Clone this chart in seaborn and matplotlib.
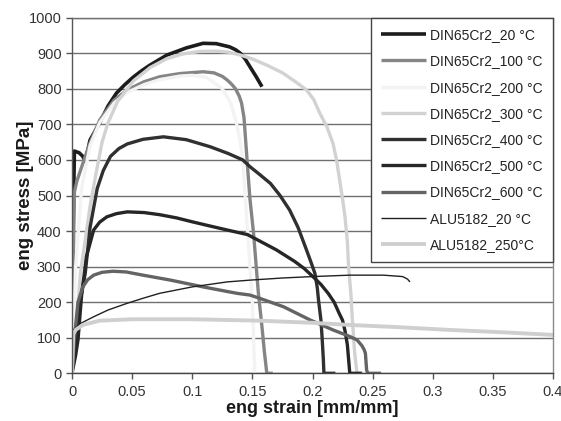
import matplotlib
matplotlib.use("Agg")
import matplotlib.pyplot as plt
import pandas as pd
import seaborn as sns

# --- engineering stress-strain data (strain in mm/mm, stress in MPa) ---
din20_strain = [0, 0.001, 0.002, 0.006, 0.009, 0.011, 0.015, 0.023, 0.030, 0.037, 0.044, 0.051,
                0.058, 0.065, 0.079, 0.095, 0.109, 0.120, 0.131, 0.136, 0.140, 0.144, 0.148,
                0.153, 0.158]
din20_stress = [0, 420, 625, 620, 610, 595, 656, 704, 752, 788, 812, 833,
                851, 867, 895, 915, 928, 927, 918, 910, 900, 884, 862,
                835, 806]

din100_strain = [0, 0.001, 0.002, 0.004, 0.010, 0.015, 0.023, 0.035, 0.046, 0.060, 0.073,
                 0.090, 0.109, 0.118, 0.125, 0.129, 0.133, 0.136, 0.139, 0.141, 0.143,
                 0.144, 0.146, 0.148, 0.151, 0.155, 0.158, 0.160, 0.162, 0.167]
din100_stress = [0, 300, 510, 540, 600, 648, 712, 768, 797, 820, 834,
                 843, 848, 845, 835, 825, 812, 800, 780, 760, 720,
                 674, 580, 490, 393, 225, 130, 60, 0, 0]

din200_strain = [0, 0.003, 0.008, 0.015, 0.023, 0.035, 0.046, 0.060, 0.073, 0.090, 0.100,
                 0.112, 0.125, 0.132, 0.137, 0.140, 0.142, 0.144, 0.146, 0.148, 0.150,
                 0.151, 0.152]
din200_stress = [0, 300, 520, 640, 705, 760, 790, 812, 826, 836, 838,
                 832, 800, 760, 700, 650, 600, 500, 400, 300, 200,
                 100, 0]

din300_strain = [0, 0.004, 0.007, 0.011, 0.015, 0.020, 0.025, 0.030, 0.038, 0.051, 0.065,
                 0.079, 0.092, 0.106, 0.120, 0.130, 0.140, 0.150, 0.163, 0.175, 0.185,
                 0.195, 0.201, 0.206, 0.212, 0.217, 0.220, 0.223, 0.225, 0.227, 0.229,
                 0.230, 0.232, 0.233, 0.235, 0.237, 0.242]
din300_stress = [0, 150, 281, 375, 469, 562, 650, 705, 765, 822, 860,
                 885, 898, 905, 906, 903, 895, 884, 865, 845, 822,
                 797, 770, 732, 693, 647, 600, 534, 490, 441, 370,
                 300, 220, 159, 60, 0, 0]

din400_strain = [0, 0.003, 0.006, 0.011, 0.015, 0.021, 0.026, 0.032, 0.039, 0.046, 0.059,
                 0.076, 0.095, 0.115, 0.130, 0.142, 0.148, 0.155, 0.165, 0.173, 0.181,
                 0.188, 0.195, 0.199, 0.202, 0.204, 0.205, 0.207, 0.208, 0.209, 0.2095,
                 0.219]
din400_stress = [0, 90, 187, 281, 410, 520, 570, 610, 632, 645, 658,
                 665, 657, 637, 618, 600, 581, 562, 534, 500, 459,
                 410, 347, 310, 281, 240, 206, 150, 100, 40, 0,
                 0]

din500_strain = [0, 0.003, 0.005, 0.008, 0.012, 0.018, 0.023, 0.029, 0.037, 0.046, 0.060,
                 0.073, 0.087, 0.100, 0.115, 0.129, 0.146, 0.160, 0.170, 0.185, 0.193,
                 0.200, 0.207, 0.213, 0.218, 0.222, 0.225, 0.227, 0.229, 0.230, 0.231,
                 0.241]
din500_stress = [0, 50, 94, 220, 328, 403, 425, 440, 449, 454, 452,
                 446, 437, 426, 414, 403, 390, 365, 347, 315, 295,
                 273, 250, 225, 200, 170, 149, 120, 80, 40, 0,
                 0]

din600_strain = [0, 0.002, 0.005, 0.009, 0.013, 0.018, 0.025, 0.034, 0.045, 0.059, 0.082,
                 0.109, 0.137, 0.148, 0.156, 0.176, 0.198, 0.217, 0.230, 0.237, 0.241,
                 0.243, 0.244, 0.245, 0.246, 0.257]
din600_stress = [0, 100, 200, 243, 263, 276, 284, 287, 285, 276, 262,
                 243, 225, 220, 211, 187, 150, 122, 105, 94, 78,
                 66, 56, 9, 0, 0]

alu20_strain = [0, 0.001, 0.007, 0.018, 0.030, 0.046, 0.060, 0.073, 0.100, 0.129, 0.148,
                0.175, 0.200, 0.231, 0.259, 0.275, 0.279, 0.281]
alu20_stress = [0, 122, 140, 159, 178, 197, 212, 225, 243, 257, 262,
                268, 272, 276, 276, 272, 265, 257]

alu250_strain = [0, 0.001, 0.003, 0.009, 0.023, 0.050, 0.073, 0.100, 0.156, 0.200, 0.231,
                 0.270, 0.314, 0.360, 0.400]
alu250_stress = [0, 110, 122, 136, 148, 152, 152, 152, 148, 142, 136,
                 130, 122, 115, 108]

series_labels = ["DIN65Cr2_20 °C", "DIN65Cr2_100 °C", "DIN65Cr2_200 °C", "DIN65Cr2_300 °C",
                 "DIN65Cr2_400 °C", "DIN65Cr2_500 °C", "DIN65Cr2_600 °C",
                 "ALU5182_20 °C", "ALU5182_250°C"]

x_ticks = [0, 0.05, 0.1, 0.15, 0.2, 0.25, 0.3, 0.35, 0.4]
x_tick_labels = ["0", "0.05", "0.1", "0.15", "0.2", "0.25", "0.3", "0.35", "0.4"]
y_ticks = [0, 100, 200, 300, 400, 500, 600, 700, 800, 900, 1000]

series_data = [
    (din20_strain, din20_stress),
    (din100_strain, din100_stress),
    (din200_strain, din200_stress),
    (din300_strain, din300_stress),
    (din400_strain, din400_stress),
    (din500_strain, din500_stress),
    (din600_strain, din600_stress),
    (alu20_strain, alu20_stress),
    (alu250_strain, alu250_stress),
]

# line appearance per series
line_colors = ["#1c1c1c", "#858585", "#f3f3f3", "#d2d2d2", "#303030",
               "#262626", "#646464", "#202020", "#cfcfcf"]
line_widths = [2.6, 2.4, 2.4, 2.4, 2.4, 2.4, 2.4, 1.0, 2.8]

frames = []
for label, (xs, ys) in zip(series_labels, series_data):
    frames.append(pd.DataFrame({"strain": xs, "stress": ys, "series": label}))
df = pd.concat(frames, ignore_index=True)

sns.set_style("white")
plt.rcParams["font.family"] = ["Liberation Sans", "DejaVu Sans"]

fig = plt.figure(figsize=(5.61, 4.21), dpi=100)
ax = fig.add_axes([72 / 561, 1 - 373.3 / 421, (553 - 72) / 561, (373.3 - 17.7) / 421])

for label, color, lw in zip(series_labels, line_colors, line_widths):
    sub = df[df["series"] == label]
    sns.lineplot(data=sub, x="strain", y="stress", ax=ax, color=color, linewidth=lw,
                 estimator=None, sort=False, label=label,
                 solid_joinstyle="round", solid_capstyle="butt")

ax.set_xlim(0, 0.4)
ax.set_ylim(0, 1000)
ax.set_xticks(x_ticks)
ax.set_xticklabels(x_tick_labels)
ax.set_yticks(y_ticks)

ax.yaxis.grid(True, color="#707070", linewidth=1.0)
ax.xaxis.grid(False)
ax.set_axisbelow(True)

for side in ["left", "bottom", "right", "top"]:
    ax.spines[side].set_visible(True)
    ax.spines[side].set_linewidth(1.0)
ax.spines["left"].set_color("#555555")
ax.spines["bottom"].set_color("#444444")
ax.spines["right"].set_color("#8a8a8a")
ax.spines["top"].set_color("#707070")

ax.tick_params(axis="both", direction="out", length=4, width=1.0, color="#555555",
               labelsize=10.5, labelcolor="#333333")
ax.tick_params(axis="x", bottom=True, pad=4.5)
ax.tick_params(axis="y", left=True, pad=3.5)

ax.set_xlabel("eng strain [mm/mm]", fontsize=13, fontweight="bold", color="#1a1a1a")
ax.set_ylabel("eng stress [MPa]", fontsize=13.5, fontweight="bold", color="#1a1a1a")
ax.xaxis.set_label_coords(0.5, (373.3 - 400) / 355.6)
ax.yaxis.set_label_coords((34 - 72) / 481, 0.5)

leg = ax.legend(loc="upper right", bbox_to_anchor=(1.0, 1.0), borderaxespad=0,
                fontsize=10, frameon=True, fancybox=False, framealpha=1,
                edgecolor="#444444", handlelength=3.2, handletextpad=0.3,
                borderpad=0.75, labelspacing=0.88)
leg.get_frame().set_linewidth(1.0)
for t in leg.get_texts():
    t.set_color("#222222")

fig.savefig("out.png", dpi=100)
